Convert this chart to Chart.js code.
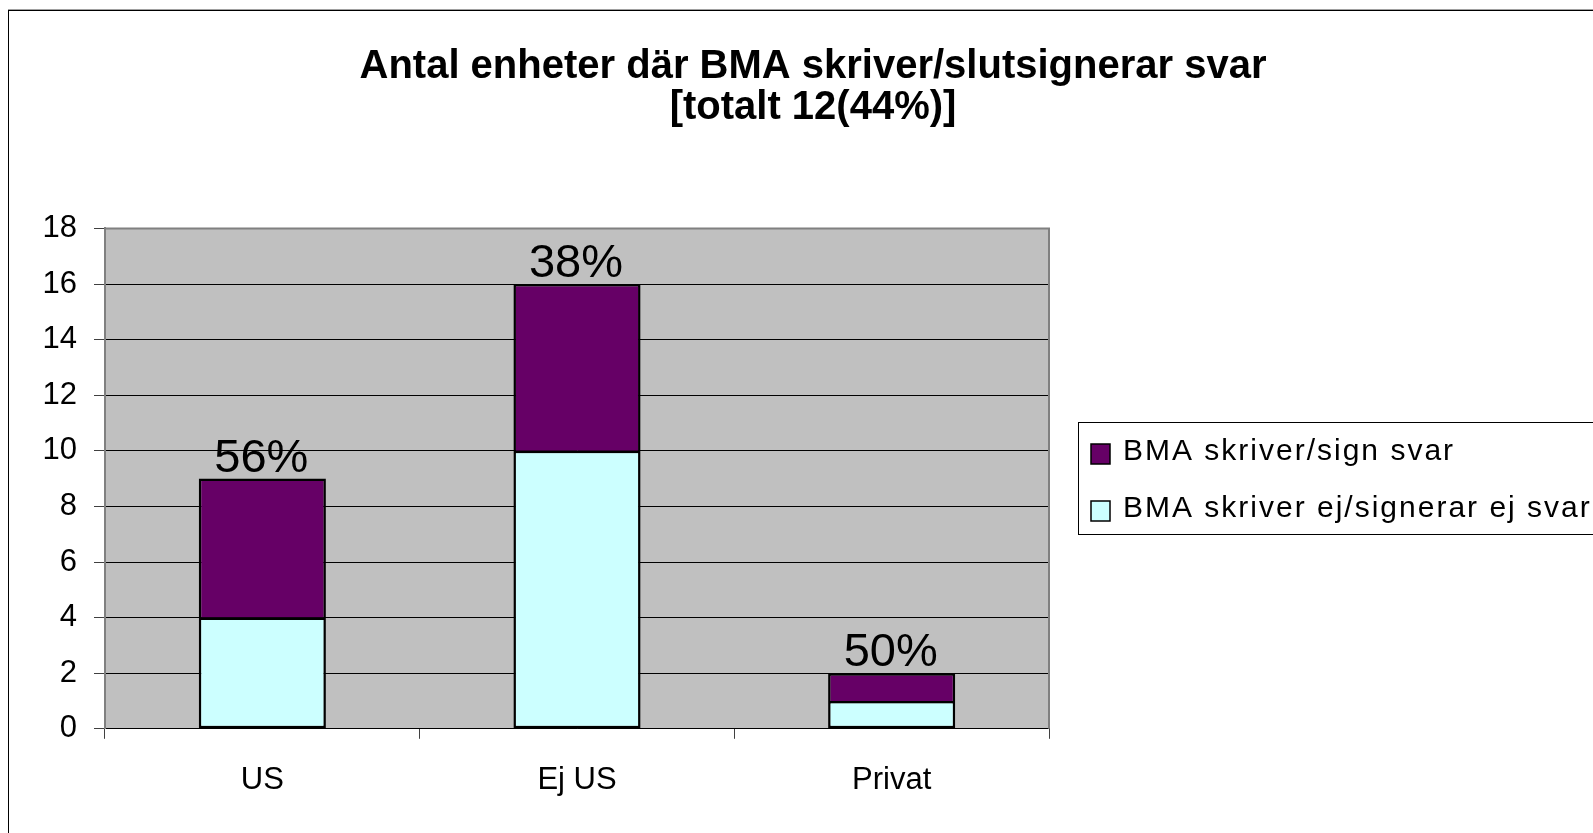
<!DOCTYPE html>
<html>
<head>
<meta charset="utf-8">
<script src="https://cdn.jsdelivr.net/npm/chart.js@4.4.1/dist/chart.umd.min.js"></script>
<style>
  html, body { margin: 0; padding: 0; background: #fff; overflow: hidden; }
  #frame {
    position: absolute; left: 8px; top: 10px;
    width: 1608px; height: 822px;
    border-top: 1px solid #000; border-left: 1px solid #000;
    box-shadow: 0 -1px 0 #a0a0a0;
  }
  #wrap { position: absolute; left: 0; top: 0; width: 1608px; height: 822px; }
</style>
</head>
<body>
<div id="frame"><div id="wrap"><canvas id="bmaChart"></canvas></div></div>
<script>
// data
const categories = ['US', 'Ej US', 'Privat'];
const skriverSign = [5, 6, 1];      // BMA skriver/sign svar
const skriverEj = [4, 10, 1];       // BMA skriver ej/signerar ej svar
const yMax = 18;
const yStep = 2;

const FONT = "'Liberation Sans', Arial, sans-serif";
Chart.defaults.font.family = FONT;
Chart.defaults.color = '#000';

// grey plot area with a grey frame on top/right
const plotBackground = {
    id: 'plotBackground',
    beforeDraw(chart) {
        const {ctx, chartArea: a} = chart;
        ctx.save();
        ctx.fillStyle = '#c0c0c0';
        ctx.fillRect(a.left, a.top, a.right - a.left, a.bottom - a.top);
        ctx.restore();
    },
    beforeDatasetsDraw(chart) {
        const {ctx, chartArea: a} = chart;
        ctx.save();
        ctx.strokeStyle = '#808080';
        ctx.lineWidth = 2;
        ctx.beginPath();
        ctx.moveTo(a.left, a.top);
        ctx.lineTo(a.right, a.top);
        ctx.lineTo(a.right, a.bottom);
        ctx.stroke();
        ctx.restore();
    }
};

// share of "skriver/sign" above each stack
const pctLabels = {
    id: 'pctLabels',
    afterDatasetsDraw(chart) {
        const {ctx} = chart;
        const meta = chart.getDatasetMeta(1);
        ctx.save();
        ctx.font = '47px ' + FONT;
        ctx.fillStyle = '#000';
        ctx.textAlign = 'center';
        ctx.textBaseline = 'alphabetic';
        meta.data.forEach((bar, i) => {
            const total = skriverSign[i] + skriverEj[i];
            const pct = Math.round(skriverSign[i] / total * 100) + '%';
            ctx.fillText(pct, bar.x - 1, bar.y - 7);
        });
        ctx.restore();
    }
};

// boxed legend in the reserved right area
const boxLegend = {
    id: 'boxLegend',
    afterDraw(chart) {
        const {ctx, chartArea: a} = chart;
        const x0 = a.right + 29;
        const y0 = 411;
        ctx.save();
        ctx.strokeStyle = '#000';
        ctx.lineWidth = 1;
        ctx.strokeRect(x0 + 0.5, y0 + 0.5, chart.width, 112);
        const items = [chart.data.datasets[1], chart.data.datasets[0]];
        ctx.font = '30px ' + FONT;
        ctx.letterSpacing = '2px';
        ctx.textBaseline = 'alphabetic';
        items.forEach((ds, i) => {
            const y = y0 + 22 + i * 57;
            ctx.fillStyle = ds.backgroundColor;
            ctx.fillRect(x0 + 13, y, 19, 20);
            ctx.lineWidth = 1.5;
            ctx.strokeStyle = '#000';
            ctx.strokeRect(x0 + 13, y, 19, 20);
            ctx.fillStyle = '#000';
            ctx.fillText(ds.label, x0 + 45, y + 16);
        });
        ctx.restore();
    }
};

new Chart(document.getElementById('bmaChart'), {
    type: 'bar',
    data: {
        labels: categories,
        datasets: [
            {
                label: 'BMA skriver ej/signerar ej svar',
                data: skriverEj,
                backgroundColor: '#ccffff',
                borderColor: '#000',
                borderWidth: 2.5,
                borderSkipped: false
            },
            {
                label: 'BMA skriver/sign svar',
                data: skriverSign,
                backgroundColor: '#660066',
                borderColor: '#000',
                borderWidth: 2.5,
                borderSkipped: 'start'
            }
        ]
    },
    options: {
        responsive: true,
        maintainAspectRatio: false,
        animation: false,
        categoryPercentage: 1,
        barPercentage: 0.404,
        layout: { padding: { left: 0, right: 0, top: 0, bottom: 11 } },
        plugins: {
            legend: { display: false },
            tooltip: { enabled: false },
            title: {
                display: true,
                text: ['Antal enheter där BMA skriver/slutsignerar svar', '[totalt 12(44%)]'],
                color: '#000',
                font: { size: 40, weight: 'bold', lineHeight: 1.03 },
                padding: { top: 35, bottom: 100 }
            }
        },
        scales: {
            x: {
                stacked: true,
                grid: {
                    display: true,
                    drawOnChartArea: false,
                    tickLength: 10,
                    tickColor: '#404040',
                    offset: true
                },
                border: { color: '#000', width: 1 },
                ticks: { font: { size: 31 }, color: '#000', padding: 23 }
            },
            y: {
                stacked: true,
                min: 0,
                max: yMax,
                afterFit(scale) { scale.width = 96; },
                grid: { color: '#000', tickLength: 11, tickColor: '#404040' },
                border: { color: '#808080', width: 2 },
                ticks: { stepSize: yStep, font: { size: 31 }, color: '#000', padding: 17 }
            },
            yRight: {
                position: 'right',
                display: true,
                afterFit(scale) { scale.width = 568; },
                grid: { display: false },
                border: { display: false },
                ticks: { display: false }
            }
        }
    },
    plugins: [plotBackground, pctLabels, boxLegend]
});
</script>
</body>
</html>
